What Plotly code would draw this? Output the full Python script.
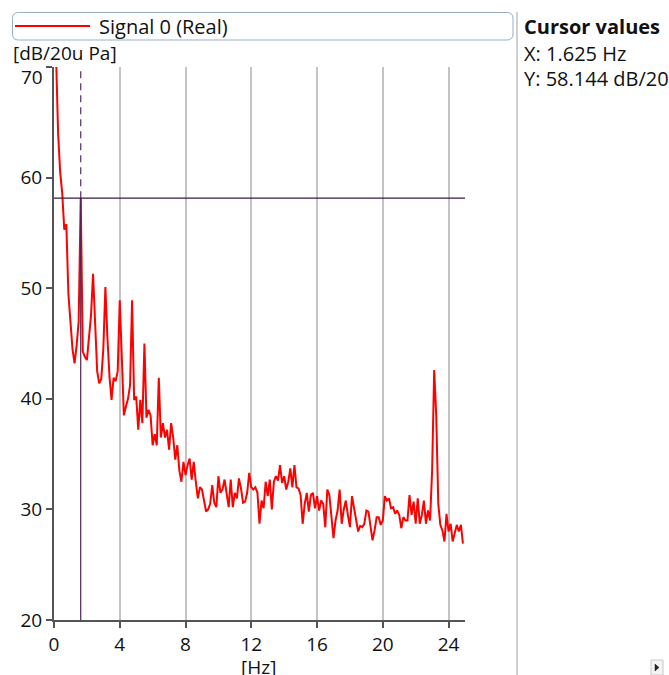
import plotly.graph_objects as go

# ---------------- data ----------------
f_start = 0.0
f_step = 0.125
level_db = [
    78.0, 72.0, 64.0, 60.5, 58.6, 55.3, 55.8, 49.5,      # 0..
    46.5, 44.5, 43.2, 44.8, 47.0, 58.144, 44.3, 43.8,    # 1..
    43.5, 45.5, 47.5, 51.3, 46.5, 42.5, 41.4, 41.8,      # 2..
    44.5, 50.1, 45.5, 42.0, 39.9, 41.9, 41.6, 42.5,      # 3..
    48.9, 43.5, 38.5, 39.3, 40.0, 41.2, 48.9, 39.9,      # 4..
    40.2, 37.2, 39.9, 37.8, 45.0, 38.3, 39.0, 38.5,      # 5..
    35.8, 36.8, 35.8, 41.9, 36.5, 37.8, 36.5, 37.2,      # 6..
    35.4, 37.8, 36.5, 34.5, 35.8, 33.5, 32.5, 34.3,      # 7..
    33.1, 34.0, 34.6, 32.7, 34.3, 32.5, 31.0, 32.0,      # 8..
    31.8, 30.8, 29.8, 30.0, 30.5, 32.2, 30.6, 30.2,      # 9..
    33.0, 31.5, 31.8, 32.7, 31.2, 30.2, 32.7, 30.2,      # 10..
    31.5, 31.0, 32.8, 31.9, 30.6, 30.7, 31.5, 33.3,      # 11..
    32.0, 31.8, 32.0, 31.5, 28.7, 30.8, 30.1, 32.5,      # 12..
    31.2, 32.7, 30.0, 32.5, 33.0, 32.6, 34.0, 32.4,      # 13..
    33.0, 31.8, 32.5, 33.7, 32.0, 34.0, 32.0, 31.9,      # 14..
    31.3, 28.7, 30.5, 31.5, 29.8, 31.3, 31.5, 30.1,      # 15..
    31.2, 29.9, 30.8, 30.5, 28.4, 31.8, 31.3, 29.5,      # 16..
    27.4, 29.0, 29.9, 31.8, 28.7, 30.0, 30.8, 29.5,      # 17..
    28.4, 31.2, 30.0, 29.2, 28.0, 28.5, 28.4, 28.7,      # 18..
    29.9, 29.8, 28.7, 27.2, 28.1, 29.3, 29.3, 28.6,      # 19..
    29.0, 31.2, 30.8, 31.0, 30.1, 30.2, 29.6, 29.9,      # 20..
    29.5, 28.3, 29.3, 29.0, 29.0, 31.3, 29.5, 30.7,      # 21..
    28.7, 31.0, 28.7, 29.5, 30.8, 28.7, 29.9, 29.0,      # 22..
    33.5, 42.6, 38.5, 30.5, 28.6, 28.1, 27.1, 29.6,      # 23..
    28.0, 28.7, 27.1, 28.0, 28.6, 28.0, 28.6, 26.9,      # 24..
]
freq_hz = [f_start + i * f_step for i in range(len(level_db))]

cursor_x = 1.625
cursor_y = 58.144

x_ticks = [0, 4, 8, 12, 16, 20, 24]
y_ticks = [20, 30, 40, 50, 60, 70]
x_range = [0, 25]
y_range = [20, 70]

series_name = "Signal 0 (Real)"
x_unit = "[Hz]"
y_unit = "[dB/20u Pa]"

# ---------------- layout geometry (pixels) ----------------
W, H = 669, 675
L, R, T, B = 54, 465, 67, 620
FONT = "Open Sans"
FS = 20


def px(xp):
    return (xp - L) / (R - L)


def py(yp):
    return (B - yp) / (B - T)


fig = go.Figure()
fig.add_trace(go.Scatter(
    x=freq_hz, y=level_db, mode="lines",
    line=dict(color="#ff0000", width=2),
    name=series_name, showlegend=False, hoverinfo="x+y",
))

shapes = []
# cursor: vertical dashed above, solid below, horizontal line
shapes.append(dict(type="line", xref="x", yref="y", x0=cursor_x, x1=cursor_x,
                   y0=cursor_y, y1=y_range[1],
                   line=dict(color="#5e3a70", width=1.3, dash="7px,5px")))
shapes.append(dict(type="line", xref="x", yref="y", x0=cursor_x, x1=cursor_x,
                   y0=y_range[0], y1=cursor_y,
                   line=dict(color="#4a2358", width=1.2)))
shapes.append(dict(type="line", xref="x", yref="y", x0=x_range[0], x1=x_range[1],
                   y0=cursor_y, y1=cursor_y,
                   line=dict(color="#3a1a48", width=1.2)))

# legend box (rounded)
x0, x1, y0, y1, r = 12.5, 513, 12.5, 40, 6
rx, ry = r / (R - L), r / (B - T)
X0, X1, Y0, Y1 = px(x0), px(x1), py(y0), py(y1)
path = (f"M {X0+rx},{Y0} L {X1-rx},{Y0} Q {X1},{Y0} {X1},{Y0-ry} "
        f"L {X1},{Y1+ry} Q {X1},{Y1} {X1-rx},{Y1} "
        f"L {X0+rx},{Y1} Q {X0},{Y1} {X0},{Y1+ry} "
        f"L {X0},{Y0-ry} Q {X0},{Y0} {X0+rx},{Y0} Z")
shapes.append(dict(type="path", xref="paper", yref="paper", path=path,
                   line=dict(color="#98aec6", width=1), fillcolor="white", layer="below"))
shapes.append(dict(type="line", xref="paper", yref="paper",
                   x0=px(15), x1=px(90), y0=py(26), y1=py(26),
                   line=dict(color="#ff0000", width=2)))
# right panel separator
shapes.append(dict(type="line", xref="paper", yref="paper",
                   x0=px(517), x1=px(517), y0=py(12), y1=py(675),
                   line=dict(color="#d0d0d0", width=2)))
# tiny scroll button
shapes.append(dict(type="rect", xref="paper", yref="paper",
                   x0=px(651), x1=px(663), y0=py(660), y1=py(675),
                   line=dict(color="#c8c8c8", width=1), fillcolor="#f4f4f4"))
shapes.append(dict(type="path", xref="paper", yref="paper",
                   path=f"M {px(655)},{py(664)} L {px(659)},{py(667.5)} L {px(655)},{py(671)} Z",
                   line=dict(color="#222", width=0.5), fillcolor="#222"))

txt = dict(family=FONT, size=FS, color="#111")
txt_s = dict(family=FONT, size=19, color="#111")
annotations = [
    dict(text=series_name, xref="paper", yref="paper", x=px(97), y=py(26),
         xanchor="left", yanchor="middle", showarrow=False, font=txt),
    dict(text=y_unit, xref="paper", yref="paper", x=px(11), y=py(53),
         xanchor="left", yanchor="middle", showarrow=False, font=txt_s),
    dict(text=x_unit, xref="paper", yref="paper", x=px(258), y=py(667),
         xanchor="center", yanchor="middle", showarrow=False, font=txt_s),
    # top tick label is drawn just below its tick, as in the reference
    dict(text=str(y_ticks[-1]), xref="paper", yref="paper", x=px(45), y=py(77),
         xanchor="right", yanchor="middle", showarrow=False, font=txt_s),
    dict(text="<b>Cursor values</b>", xref="paper", yref="paper", x=px(522), y=py(27),
         xanchor="left", yanchor="middle", showarrow=False, font=txt),
    dict(text=f"X: {cursor_x} Hz", xref="paper", yref="paper", x=px(522), y=py(53),
         xanchor="left", yanchor="middle", showarrow=False, font=txt),
    dict(text=f"Y: {cursor_y} dB/20u Pa", xref="paper", yref="paper", x=px(522), y=py(78),
         xanchor="left", yanchor="middle", showarrow=False, font=txt),
]

y_ticktext = [str(v) for v in y_ticks[:-1]] + [""]

fig.update_layout(
    width=W, height=H,
    margin=dict(l=L, r=W - R, t=T, b=H - B, pad=0),
    paper_bgcolor="white", plot_bgcolor="white",
    shapes=shapes, annotations=annotations,
    font=txt,
    xaxis=dict(range=x_range, tickvals=x_ticks, ticktext=[str(v) for v in x_ticks],
               showgrid=True, gridcolor="#c4c4c4", gridwidth=2,
               showline=True, linecolor="#555", linewidth=2,
               ticks="outside", ticklen=6, tickwidth=1.5, tickcolor="#555",
               zeroline=False, fixedrange=True, tickfont=txt_s),
    yaxis=dict(range=y_range, tickvals=y_ticks, ticktext=y_ticktext,
               showgrid=False, showline=True, linecolor="#555", linewidth=2,
               ticks="outside", ticklen=6, tickwidth=1.5, tickcolor="#555",
               zeroline=False, fixedrange=True, tickfont=txt_s),
)

fig.write_html("out.html", config={"displayModeBar": False},
               post_script="document.body.style.margin='0';")
